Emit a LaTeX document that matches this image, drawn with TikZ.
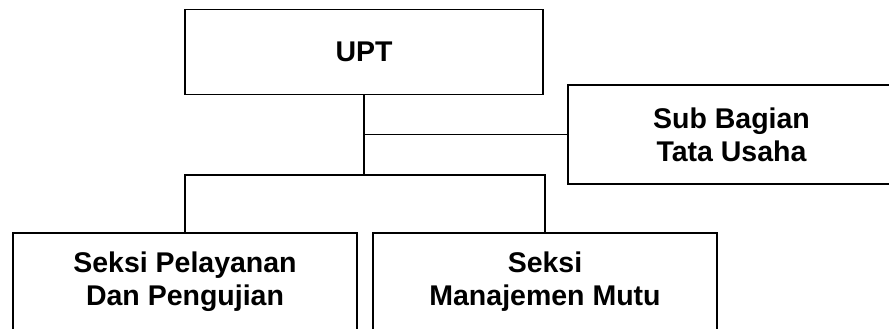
\documentclass[tikz,border=0pt]{standalone}
\usepackage{fontspec}
\setmainfont{Liberation Sans}
\begin{document}
\begin{tikzpicture}[x=1pt,y=-1pt,line width=1.5pt,
	kotak/.style={draw,rectangle,inner sep=0pt,align=center,font=\fontsize{28.5}{33}\selectfont\bfseries}]
			\useasboundingbox (0,0) rectangle (889,329);
			\clip (0,0) rectangle (889,329);
			\node[kotak,minimum width=358pt,minimum height=85pt] (upt) at (364,52) {UPT};
			\node[kotak,minimum width=327pt,minimum height=99pt] (tu) at (731.5,134.5) {Sub Bagian\\Tata Usaha};
			\node[kotak,minimum width=344pt,minimum height=98pt] (pelayanan) at (185,282) {Seksi Pelayanan\\Dan Pengujian};
			\node[kotak,minimum width=344pt,minimum height=98pt] (mutu) at (545,282) {Seksi\\Manajemen Mutu};
			\coordinate (cabang) at (364,175);
			\draw (upt.south) -- (cabang);
			\draw (tu.west) -- (tu.west -| upt.south);
			\draw (pelayanan.north) |- (cabang) -| (mutu.north);
			\end{tikzpicture}
\end{document}
